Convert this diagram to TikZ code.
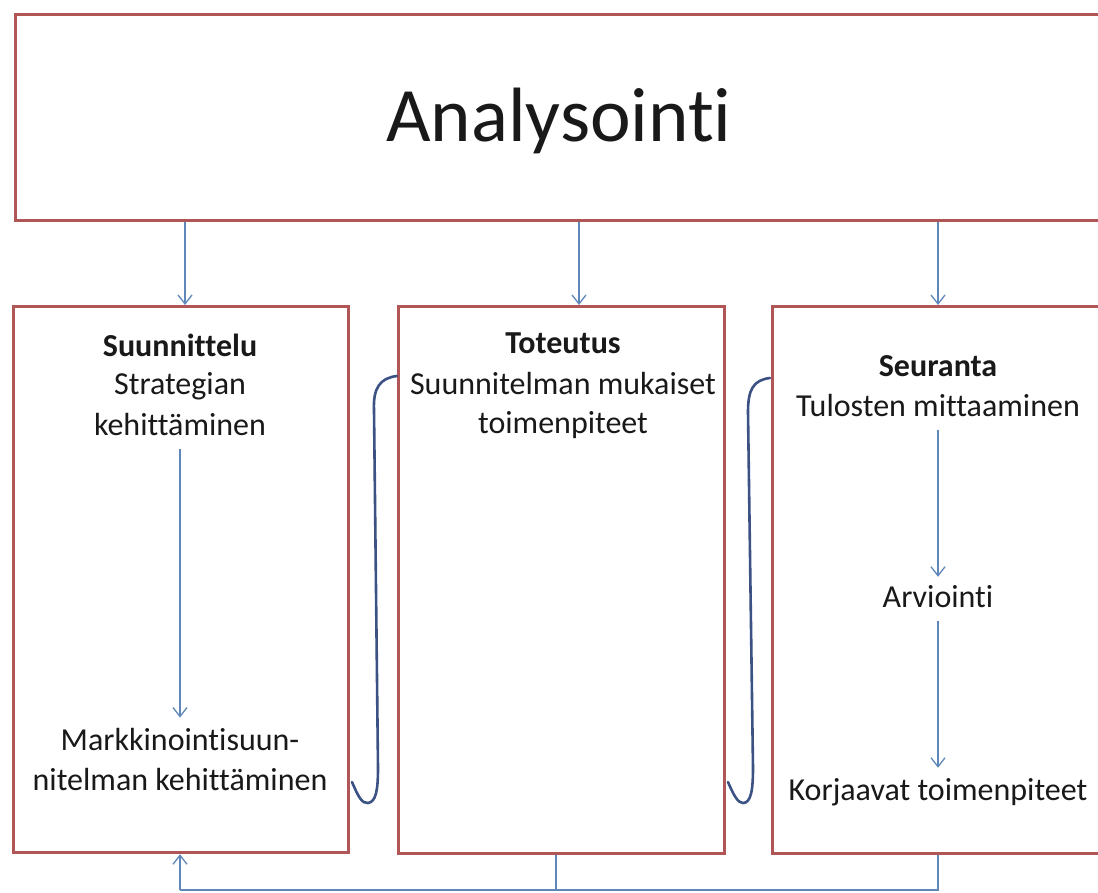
\documentclass[tikz,border=0pt]{standalone}
\usepackage{fontspec}
\setmainfont{Carlito}[Ligatures={NoCommon}]
\usetikzlibrary{arrows.meta}
\definecolor{boxred}{RGB}{176,86,86}
\definecolor{arrblue}{RGB}{95,135,185}
\definecolor{curveblue}{RGB}{60,82,132}
\definecolor{txt}{RGB}{25,25,25}
\tikzset{
  box/.style={draw=boxred, line width=3.2pt, fill=white, rectangle, anchor=north west, inner sep=0pt},
  lbl/.style={font=\fontsize{32}{39}\selectfont, text=txt, anchor=base, inner sep=0pt},
  ttl/.style={lbl, font=\fontsize{32}{39}\selectfont\bfseries},
  arr/.style={draw=arrblue, line width=1.3pt, -{Straight Barb[length=9pt,width=14pt]}},
  conn/.style={draw=arrblue, line width=1.3pt},
  brace/.style={draw=curveblue, line width=2.6pt, line cap=round}
}
\begin{document}
\begin{tikzpicture}[x=1pt,y=-1pt]
\useasboundingbox (0,0) rectangle (1098,893);
\clip (0,0) rectangle (1098,893);
\fill[white] (0,0) rectangle (1098,893);
% boxes
\node[box, minimum width=1110pt, minimum height=206pt] (top) at (14,13) {};
\node[box, minimum width=335pt, minimum height=546pt] (b1) at (12,305) {};
\node[box, minimum width=326pt, minimum height=547pt] (b2) at (397,305) {};
\node[box, minimum width=340pt, minimum height=547pt] (b3) at (771,305) {};
% title
\node[lbl, font=\fontsize{77}{90}\selectfont] (ana) at (559,142) {Analysointi};
% box 1 text
\node[ttl] (s1) at (180,356) {Suunnittelu};
\node[lbl] (s2) at (180,395) {Strategian};
\node[lbl] (s3) at (180,435) {kehittäminen};
\node[lbl] (s4) at (180,750) {Markkinointisuun-};
\node[lbl] (s5) at (180,790) {nitelman kehittäminen};
% box 2 text
\node[ttl] (t1) at (563,353) {Toteutus};
\node[lbl] (t2) at (563,394) {Suunnitelman mukaiset};
\node[lbl] (t3) at (563,433) {toimenpiteet};
% box 3 text
\node[ttl] (r1) at (938,376) {Seuranta};
\node[lbl] (r2) at (938,416) {Tulosten mittaaminen};
\node[lbl] (r3) at (938,607) {Arviointi};
\node[lbl] (r4) at (938,800) {Korjaavat toimenpiteet};
% arrows from top box
\draw[arr] (top.south -| 185,0) -- (b1.north -| 185,0);
\draw[arr] (top.south -| 579,0) -- (b2.north -| 579,0);
\draw[arr] (top.south -| 938,0) -- (b3.north -| 938,0);
% inner arrows
\draw[arr] ([yshift=-14pt]s3.south) -- ([yshift=10pt]s4.north);
\draw[arr] ([yshift=-14pt]r2.south) -- ([yshift=8pt]r3.north);
\draw[arr] ([yshift=-14pt]r3.south) -- ([yshift=10pt]r4.north);
% bottom feedback
\coordinate (j) at (180,890);
\draw[conn] (b3.south -| 938,0) |- (j);
\draw[conn] (b2.south -| 556,0) -- (556,890);
\draw[arr] (j) -- (b1.south -| j);
% brace connectors
\coordinate (c1s) at (352,782);
\coordinate (c1e) at (397,376);
\draw[brace] (c1s) .. controls (358,796) and (362,804) .. (368,803)
  .. controls (376,802) and (378,790) .. (378,768)
  -- (374,410) .. controls (373,388) and (380,378) .. (c1e);
\coordinate (c2s) at (728,782);
\coordinate (c2e) at (770,378);
\draw[brace] (c2s) .. controls (734,796) and (738,803) .. (743,803)
  .. controls (751,803) and (753,790) .. (753,768)
  -- (748,412) .. controls (748,390) and (753,380) .. (c2e);
\end{tikzpicture}
\end{document}
